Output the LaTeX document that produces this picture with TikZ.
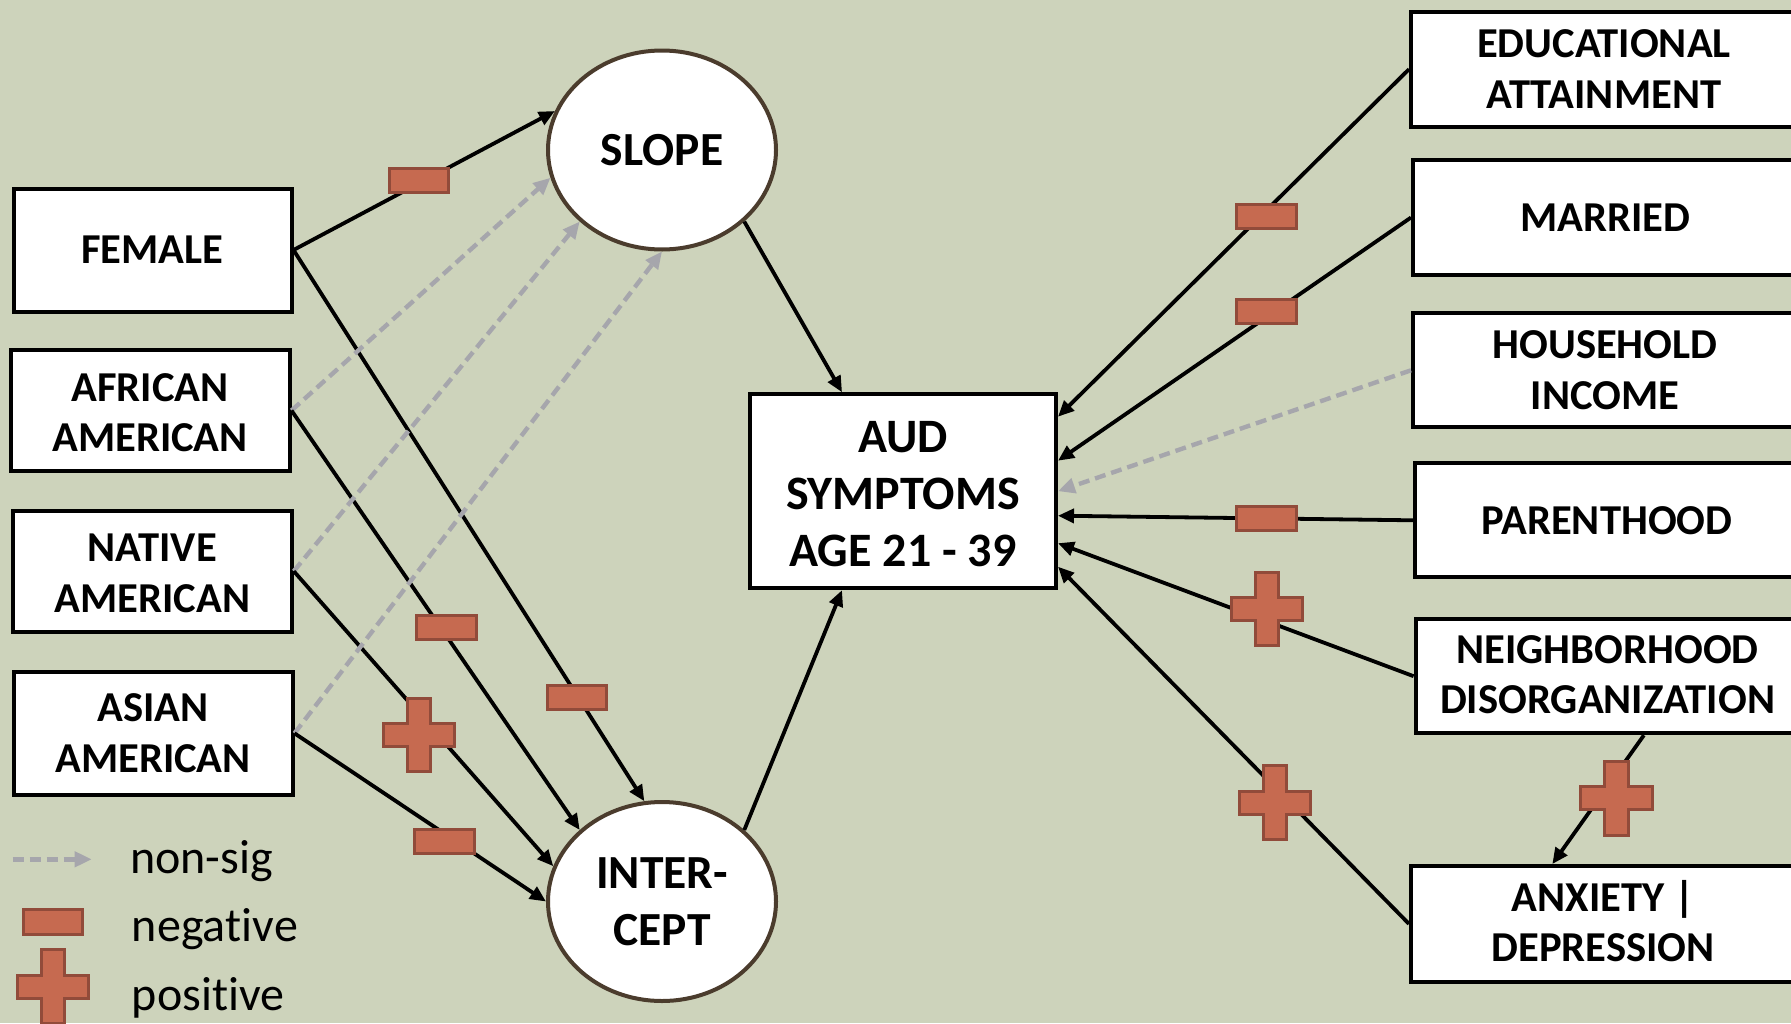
\documentclass[tikz,border=0pt]{standalone}
\usepackage{fontspec}
\setmainfont[Ligatures=NoCommon]{Carlito}
\usetikzlibrary{arrows.meta,shapes.geometric,calc}
\definecolor{bg}{HTML}{CDD3BB}
\definecolor{markfill}{HTML}{C66A50}
\definecolor{markedge}{HTML}{914B3A}
\definecolor{nsgray}{HTML}{A6A6AC}
\definecolor{ringbrown}{HTML}{4B3C2D}

\tikzset{
  box/.style={rectangle, draw=black, fill=white, line width=4pt, inner sep=0pt,
    align=center, font=\bfseries\fontsize{42.6}{50.5}\selectfont},
  leftbox/.style={box, minimum width=279pt, minimum height=121pt},
  rightbox/.style={box, minimum width=384pt, minimum height=114pt},
  latent/.style={ellipse, draw=ringbrown, fill=white, line width=4pt, inner sep=0pt,
    align=center, minimum width=228pt, minimum height=199pt,
    font=\bfseries\fontsize{47.5}{57}\selectfont},
  blk/.style={draw=black, line width=3.8pt, -{Triangle[length=16pt,width=14pt]}},
  ns/.style={draw=nsgray, line width=4.4pt, dash pattern=on 11pt off 6pt,
    -{Triangle[length=17pt,width=15pt]}},
  negmark/.style={rectangle, fill=markfill, draw=markedge, line width=3pt,
    minimum width=59.5pt, minimum height=23.7pt, inner sep=0pt},
  legendtext/.style={anchor=base west, inner sep=0pt, font=\fontsize{48}{58}\selectfont},
  plusmark/.pic={
    \filldraw[fill=markfill, draw=markedge, line width=3pt]
      (-11.6,-36.8) -- (11.6,-36.8) -- (11.6,-11.5) -- (35.6,-11.5) -- (35.6,11.5)
      -- (11.6,11.5) -- (11.6,36.8) -- (-11.6,36.8) -- (-11.6,11.5) -- (-35.6,11.5)
      -- (-35.6,-11.5) -- (-11.6,-11.5) -- cycle;
  }
}

\begin{document}
\begin{tikzpicture}[x=1pt, y=-1pt]
  \useasboundingbox (0,0) rectangle (1791,1023);
  \clip (0,0) rectangle (1791,1023);
  \fill[bg] (0,0) rectangle (1791,1023);

  % predictors on the left
  \node[leftbox, minimum width=278pt, minimum height=123pt] (female) at (152.5,250) {FEMALE};
  \node[leftbox] (african) at (150,410.5) {\raisebox{-2pt}[\height][\depth]{\parbox{270pt}{\centering AFRICAN\\AMERICAN}}};
  \node[leftbox] (native) at (152.3,571.2) {\raisebox{-2pt}[\height][\depth]{\parbox{270pt}{\centering NATIVE\\AMERICAN}}};
  \node[leftbox, minimum height=123pt] (asian) at (153,733.3) {ASIAN\\AMERICAN};

  % growth factors
  \node[latent] (slope) at (662,150) {SLOPE};
  \node[latent] (intercept) at (662,901.5) {INTER-\\CEPT};

  % outcome
  \node[box, minimum width=306pt, minimum height=194pt,
        font=\bfseries\fontsize{48}{57}\selectfont] (aud) at (903,491.2)
        {\raisebox{-3pt}[\height][\depth]{\parbox{300pt}{\centering AUD\\SYMPTOMS\\AGE 21 - 39}}};

  % time-varying covariates on the right
  \node[rightbox, minimum width=386pt, minimum height=115pt] (edu) at (1604,69.2) {EDUCATIONAL\\ATTAINMENT};
  \node[rightbox, minimum height=115pt] (married) at (1605,217.5) {MARRIED};
  \node[rightbox] (household) at (1605,370.3) {HOUSEHOLD\\INCOME};
  \node[rightbox] (parent) at (1607,520.3) {PARENTHOOD};
  \node[rightbox] (neighbor) at (1607.6,676.2) {\raisebox{1.5pt}[\height][\depth]{\parbox{380pt}{\centering NEIGHBORHOOD\\DISORGANIZATION}}};
  \node[rightbox, minimum height=115.7pt] (anxiety) at (1603,923.9) {\raisebox{3pt}[\height][\depth]{\parbox{380pt}{\centering ANXIETY |\\DEPRESSION}}};

  % paths into the growth factors
  \draw[blk] (female.east) -- (slope.160);
  \draw[blk] (female.east) -- (intercept.100);
  \draw[ns]  (african.east) -- (slope.194);
  \draw[blk] (african.east) -- (intercept.139);
  \draw[ns]  (native.east) -- (slope.221);
  \draw[blk] (native.east) -- (intercept.162);
  \draw[ns]  (asian.east) -- (slope.270);
  \draw[blk] (asian.east) -- (intercept.180);

  % growth factors into the outcome
  \draw[blk] (slope.-41) -- ([xshift=-61pt]aud.north);
  \draw[blk] (intercept.41) -- ([xshift=-61pt]aud.south);

  % covariates into the outcome
  \draw[blk] (edu.west) -- ([yshift=74.5pt]aud.east);
  \draw[blk] (married.west) -- ([yshift=30.5pt]aud.east);
  \draw[ns]  (household.west) -- (aud.east);
  \draw[blk] (parent.west) -- ([yshift=-24.5pt]aud.east);
  \draw[blk] (neighbor.west) -- ([yshift=-52pt]aud.east);
  \draw[blk] (anxiety.west) -- ([yshift=-75.5pt]aud.east);
  \draw[blk] ([xshift=230.3pt]neighbor.south west) -- ([xshift=143.3pt]anxiety.north west);

  % signs of the significant effects
  \node[negmark] (nfs) at (419.2,180.8) {};
  \node[negmark] (nfi) at (576.8,697.3) {};
  \node[negmark] (nai) at (446.3,627.7) {};
  \node[negmark] (nsi) at (444.5,841.3) {};
  \pic (pni) at (418.8,735) {plusmark};
  \node[negmark] (ned) at (1266.7,216.7) {};
  \node[negmark] (nma) at (1266.7,311.7) {};
  \node[negmark] (npa) at (1266.4,518.3) {};
  \pic (pne) at (1267.1,609) {plusmark};
  \pic (pan) at (1274.6,802.7) {plusmark};
  \pic (pna) at (1616.5,798.3) {plusmark};

  % legend
  \coordinate (legA) at (12.7,859.3);
  \coordinate (legB) at (91.7,859.3);
  \draw[ns] (legA) -- (legB);
  \node[negmark, minimum width=59.6pt, minimum height=24.4pt] (legneg) at (53,922) {};
  \pic (legpos) at (53,986.7) {plusmark};
  \node[legendtext] (lt1) at (130,873.3) {non-sig};
  \node[legendtext] (lt2) at (131.7,941.7) {nega\kern0pt tive};
  \node[legendtext] (lt3) at (131.7,1010) {posi\kern0pt tive};
\end{tikzpicture}
\end{document}
